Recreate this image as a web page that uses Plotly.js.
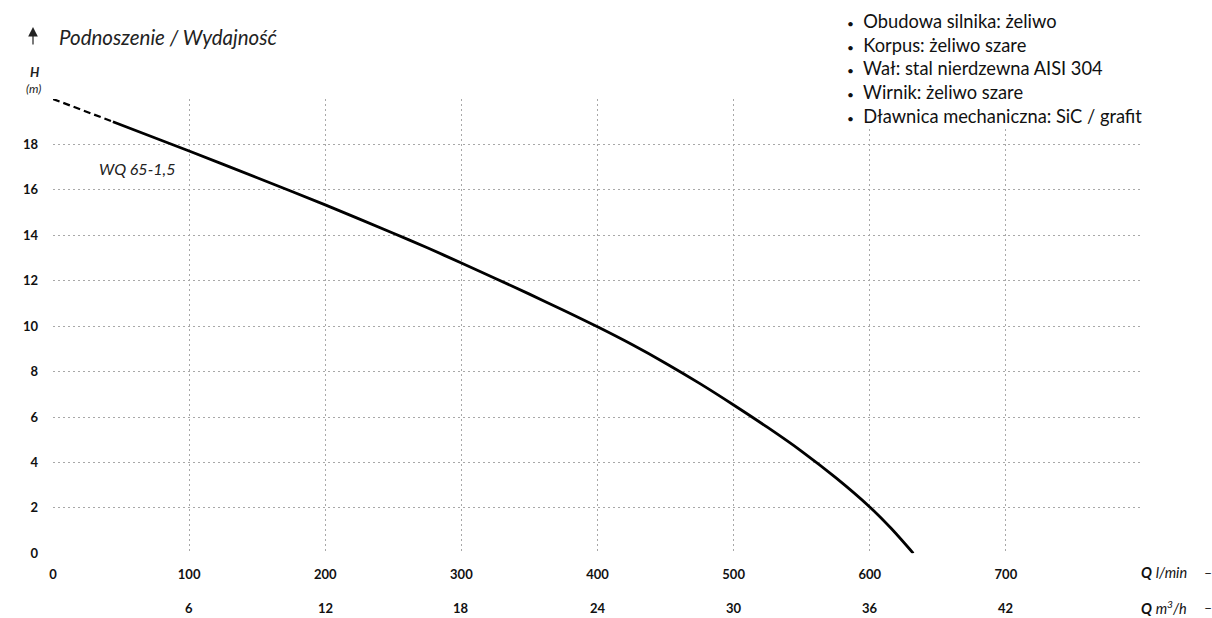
<!DOCTYPE html>
<html>
<head>
<meta charset="utf-8">
<script src="https://cdn.plot.ly/plotly-3.0.1.min.js"></script>
<style>html,body{margin:0;padding:0;background:#fff;}#chart{width:1212px;height:618px;}</style>
</head>
<body>
<div id="chart"></div>
<script>
// ---- data ----
const dashedQ = [0, 44];
const dashedH = [20, 19.0];
const curveQ = [44, 100, 150, 200, 250, 275, 300, 325, 350, 375, 400, 425, 450, 475, 500, 525, 550, 575, 600, 616, 632];
const curveH = [19.0, 17.71, 16.53, 15.34, 14.09, 13.45, 12.78, 12.10, 11.41, 10.70, 9.97, 9.20, 8.37, 7.48, 6.53, 5.54, 4.49, 3.33, 2.04, 1.08, 0];
const qLminTicks = [0, 100, 200, 300, 400, 500, 600, 700, 800];
const qLminLabels = ['0', '100', '200', '300', '400', '500', '600', '700', ''];
const qM3hTicks = [6, 12, 18, 24, 30, 36, 42];
const hTicks = [0, 2, 4, 6, 8, 10, 12, 14, 16, 18, 20];
const hLabels = ['0', '2', '4', '6', '8', '10', '12', '14', '16', '18', ''];
const specs = [
  'Obudowa silnika: żeliwo',
  'Korpus: żeliwo szare',
  'Wał: stal nierdzewna AISI 304',
  'Wirnik: żeliwo szare',
  'Dławnica mechaniczna: SiC / grafit'
];
const modelName = 'WQ 65-1,5';

// ---- layout helpers (pixel -> paper) ----
const W = 1212, H = 618, ML = 53, MR = 70, MT = 99, MB = 10;
const PW = W - ML - MR, PH = H - MT - MB;
const px = p => (p - ML) / PW;
const py = p => (H - MB - p) / PH;
const yBottom = py(553.3);

const FONT = 'Lato, "Open Sans", sans-serif';
const gridColor = '#a8a8a8';

const traces = [
  {x: dashedQ, y: dashedH, mode: 'lines', line: {color: '#000', width: 2.2, dash: '7px,4px'}, hoverinfo: 'skip'},
  {x: curveQ, y: curveH, mode: 'lines', line: {color: '#000', width: 2.8, shape: 'spline', smoothing: 0.8}, hoverinfo: 'skip'}
];

const annotations = [];
annotations.push({xref: 'paper', yref: 'paper', x: px(57), y: py(36.5), xanchor: 'left', yanchor: 'middle',
  text: '<i>Podnoszenie / Wydajność</i>', showarrow: false, font: {family: FONT, size: 20.5, color: '#222'}});
annotations.push({xref: 'paper', yref: 'paper', x: px(33), y: py(27), axref: 'pixel', ayref: 'pixel', ax: 0, ay: 19,
  text: '', showarrow: true, arrowhead: 2, arrowsize: 1.6, arrowwidth: 1.2, arrowcolor: '#222'});
annotations.push({xref: 'paper', yref: 'paper', x: px(35), y: py(72), xanchor: 'center', yanchor: 'middle',
  text: '<b><i>H</i></b>', showarrow: false, font: {family: FONT, size: 13, color: '#222'}});
annotations.push({xref: 'paper', yref: 'paper', x: px(33), y: py(88), xanchor: 'center', yanchor: 'middle',
  text: '<i>(m)</i>', showarrow: false, font: {family: FONT, size: 12, color: '#222'}});
annotations.push({xref: 'paper', yref: 'paper', x: px(137), y: py(168), xanchor: 'center', yanchor: 'middle',
  text: '<i>' + modelName + '</i>', showarrow: false, font: {family: FONT, size: 16, color: '#222'}});
const specY = [21.5, 45, 68.5, 91.5, 115.5];
specs.forEach((s, i) => {
  annotations.push({xref: 'paper', yref: 'paper', x: px(845), y: py(specY[i]), xanchor: 'left', yanchor: 'middle',
    text: '<span style="font-size:12px">•</span>  ' + s, showarrow: false, font: {family: FONT, size: 18.3, color: '#111'}});
});
qM3hTicks.forEach(v => {
  annotations.push({xref: 'x', yref: 'paper', x: v / 0.06, y: py(607.5), xanchor: 'center', yanchor: 'middle',
    text: '<b>' + v + '</b>', showarrow: false, font: {family: FONT, size: 13, color: '#111'}});
});
annotations.push({xref: 'paper', yref: 'paper', x: px(1139), y: py(572), xanchor: 'left', yanchor: 'middle',
  text: '<b><i>Q</i></b> <i>l/min</i>', showarrow: false, font: {family: FONT, size: 14.5, color: '#111'}});
annotations.push({xref: 'paper', yref: 'paper', x: px(1139), y: py(607), xanchor: 'left', yanchor: 'middle',
  text: '<b><i>Q</i></b> <i>m<sup>3</sup>/h</i>', showarrow: false, font: {family: FONT, size: 14.5, color: '#111'}});
annotations.push({xref: 'paper', yref: 'paper', x: px(1208), y: py(572), xanchor: 'center', yanchor: 'middle',
  text: '–', showarrow: false, font: {family: FONT, size: 14, color: '#111'}});
annotations.push({xref: 'paper', yref: 'paper', x: px(1208), y: py(607), xanchor: 'center', yanchor: 'middle',
  text: '–', showarrow: false, font: {family: FONT, size: 14, color: '#111'}});

const layout = {
  width: W, height: H,
  margin: {l: ML, r: MR, t: MT, b: MB, pad: 0},
  paper_bgcolor: '#fff', plot_bgcolor: '#fff',
  showlegend: false,
  font: {family: FONT, color: '#111'},
  xaxis: {
    range: [0, 800], tickmode: 'array', tickvals: qLminTicks, ticktext: qLminLabels,
    showgrid: true, gridcolor: gridColor, griddash: '2px,3px', gridwidth: 1,
    zeroline: false, showline: false, ticks: '', ticklabelstandoff: 12,
    tickfont: {family: FONT, size: 13, weight: 'bold', color: '#111'}, fixedrange: true
  },
  yaxis: {
    domain: [yBottom, 1],
    range: [0, 20], tickmode: 'array', tickvals: hTicks, ticktext: hLabels,
    showgrid: true, gridcolor: gridColor, griddash: '2px,3px', gridwidth: 1,
    zeroline: false, showline: false, ticks: '', ticklabelstandoff: 14,
    tickfont: {family: FONT, size: 13, weight: 'bold', color: '#111'}, fixedrange: true
  },
  shapes: [
    {type: 'rect', xref: 'paper', yref: 'paper', x0: px(838), x1: px(1165), y0: py(128), y1: py(-5),
     fillcolor: '#fff', line: {width: 0}, layer: 'above'}
  ],
  annotations: annotations
};

Plotly.newPlot('chart', traces, layout, {staticPlot: true, displayModeBar: false});
</script>
</body>
</html>
